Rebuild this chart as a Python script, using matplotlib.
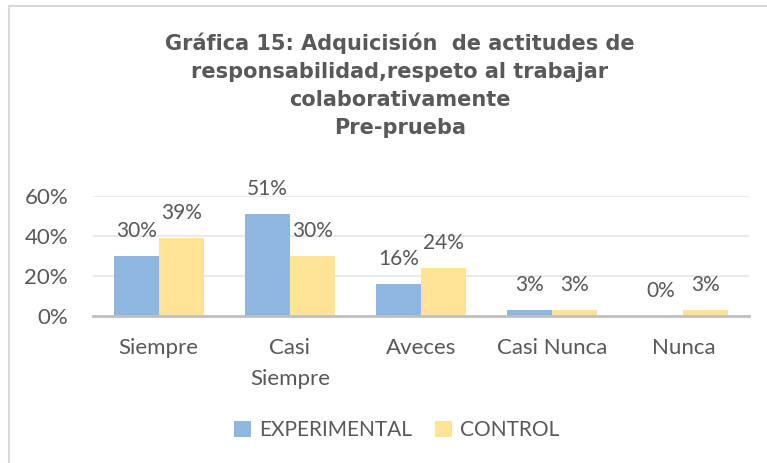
import matplotlib
matplotlib.use("Agg")
import matplotlib.pyplot as plt
import numpy as np
from matplotlib.lines import Line2D

categorias = ["Siempre", "Casi\nSiempre", "Aveces", "Casi Nunca", "Nunca"]
experimental = [30, 51, 16, 3, 0]
control = [39, 30, 24, 3, 3]
series = ["EXPERIMENTAL", "CONTROL"]
titulo = ("Gráfica 15: Adquicisión  de actitudes de\n"
          "responsabilidad,respeto al trabajar\n"
          "colaborativamente\nPre-prueba")

AZUL, AMARILLO, GRIS = "#8DB6E1", "#FFE497", "#595959"
W, H = 767, 463

fig = plt.figure(figsize=(W / 100, H / 100), dpi=100)
ax = fig.add_axes([93 / W, (H - 316) / H, (749 - 93) / W, 120 / H])

x = np.arange(len(categorias))
bw = 0.343
b1 = ax.bar(x - bw / 2, experimental, bw, color=AZUL, label=series[0], zorder=2)
b2 = ax.bar(x + bw / 2, control, bw, color=AMARILLO, label=series[1], zorder=2)

for bars, vals in ((b1, experimental), (b2, control)):
    for r, v in zip(bars, vals):
        ax.annotate(f"{v}%", (r.get_x() + r.get_width() / 2, v), xytext=(0, 18),
                    textcoords="offset points", ha="center", va="center",
                    fontsize=15, color=GRIS, family="Lato", annotation_clip=False)

ax.set_xlim(-0.5, len(categorias) - 0.5)
ax.set_ylim(0, 60)
ax.set_yticks([0, 20, 40, 60])
ax.set_yticklabels([f"{t}%" for t in [0, 20, 40, 60]])
ax.set_xticks(x)
ax.set_xticklabels(categorias, linespacing=1.65)
ax.tick_params(length=0, labelsize=16, labelcolor=GRIS)
ax.tick_params(axis="x", pad=16)
ax.tick_params(axis="y", pad=18)
for lab in ax.get_xticklabels() + ax.get_yticklabels():
    lab.set_family("Lato")
ax.grid(axis="y", color="#E6E6E6", lw=1.2, zorder=0)
for s in ("top", "right", "left"):
    ax.spines[s].set_visible(False)
ax.spines["bottom"].set_color("#BFBFBF")
ax.spines["bottom"].set_linewidth(2)
ax.spines["bottom"].set_zorder(3)

fig.text(400 / W, 1 - 32 / H, titulo, ha="center", va="top", fontsize=15,
         fontweight="bold", color=GRIS, family="DejaVu Sans", linespacing=1.5)

fig.legend(loc="center", bbox_to_anchor=(397 / W, 1 - 430 / H), ncol=2, frameon=False,
           handlelength=0.8, handleheight=0.8, columnspacing=1.1, handletextpad=0.4,
           prop={"family": "Lato", "size": 15}, labelcolor=GRIS)

fig.add_artist(Line2D([9 / W, 1], [1 - 6 / H, 1 - 6 / H], color="#D9D9D9", lw=1.5))
fig.add_artist(Line2D([9 / W, 9 / W], [0, 1 - 6 / H], color="#D9D9D9", lw=1.5))

fig.savefig("out.png", dpi=100, facecolor="white")
